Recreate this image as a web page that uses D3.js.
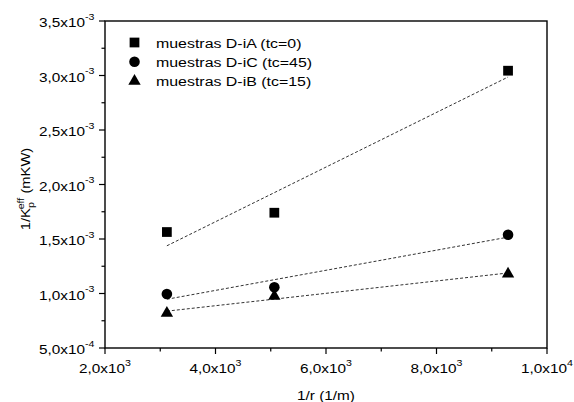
<!DOCTYPE html>
<html><head><meta charset="utf-8">
<script src="https://cdn.jsdelivr.net/npm/d3@7/dist/d3.min.js"></script>
<style>body{margin:0;background:#fff}svg{display:block}text{font-family:"Liberation Sans",Arial,sans-serif}</style>
</head><body>
<script>
const seriesNames = ["muestras D-iA (tc=0)", "muestras D-iC (tc=45)", "muestras D-iB (tc=15)"];
const xValues = [3120, 5065, 9295];
const seriesA = [1.564e-3, 1.741e-3, 3.044e-3];
const seriesC = [0.995e-3, 1.057e-3, 1.539e-3];
const seriesB = [0.82e-3, 0.975e-3, 1.18e-3];
const xTicks = [2000, 4000, 6000, 8000, 10000];
const xTickMant = ["2,0", "4,0", "6,0", "8,0", "1,0"];
const xTickExp = ["3", "3", "3", "3", "4"];
const yTicks = [5e-4, 1e-3, 1.5e-3, 2e-3, 2.5e-3, 3e-3, 3.5e-3];
const yTickMant = ["5,0", "1,0", "1,5", "2,0", "2,5", "3,0", "3,5"];
const yTickExp = ["-4", "-3", "-3", "-3", "-3", "-3", "-3"];

const W = 574, H = 402, SX = 1.18;
const m = {l: 105, r: 27, t: 21, b: 54};
const svg = d3.select("body").append("svg").attr("width", W).attr("height", H);
const x = d3.scaleLinear().domain([2000, 10000]).range([m.l, W - m.r]);
const y = d3.scaleLinear().domain([5e-4, 3.5e-3]).range([H - m.b, m.t]);

function stext(px, py, anchor, size, extra) {
  return svg.append("g").attr("transform", `translate(${px},${py})${extra || ""} scale(${SX},1)`)
    .append("text").attr("x", 0).attr("y", 0).attr("text-anchor", anchor).attr("font-size", size);
}

// frame
svg.append("rect").attr("x", m.l).attr("y", m.t).attr("width", W - m.r - m.l).attr("height", H - m.b - m.t)
  .attr("fill", "none").attr("stroke", "#000").attr("stroke-width", 1.4);

// x axis ticks
const gx = svg.append("g").attr("transform", `translate(0,${H - m.b})`);
const xMinor = d3.range(3000, 10000, 2000);
gx.selectAll(".mj").data(xTicks).join("line").attr("x1", d => x(d)).attr("x2", d => x(d)).attr("y1", 0).attr("y2", 6).attr("stroke", "#000").attr("stroke-width", 1.2);
gx.selectAll(".mn").data(xMinor).join("line").attr("x1", d => x(d)).attr("x2", d => x(d)).attr("y1", 0).attr("y2", 3.5).attr("stroke", "#000").attr("stroke-width", 1.2);
xTicks.forEach((d, i) => {
  const t = stext(x(d), H - m.b + 25, "middle", 13);
  t.append("tspan").text(xTickMant[i] + "x10");
  t.append("tspan").attr("dy", -7).attr("font-size", 9).text(xTickExp[i]);
});

// y axis ticks
const gy = svg.append("g").attr("transform", `translate(${m.l},0)`);
const yMinor = d3.range(7.5e-4, 3.5e-3, 5e-4);
gy.selectAll(".mj").data(yTicks).join("line").attr("y1", d => y(d)).attr("y2", d => y(d)).attr("x1", 0).attr("x2", -6).attr("stroke", "#000").attr("stroke-width", 1.2);
gy.selectAll(".mn").data(yMinor).join("line").attr("y1", d => y(d)).attr("y2", d => y(d)).attr("x1", 0).attr("x2", -3.5).attr("stroke", "#000").attr("stroke-width", 1.2);
yTicks.forEach((d, i) => {
  const t = stext(m.l - 10.5, y(d) + 6, "end", 13);
  t.append("tspan").text(yTickMant[i] + "x10");
  t.append("tspan").attr("dy", -7.5).attr("font-size", 9).text(yTickExp[i]);
});

// axis titles
stext(x(6000), 400, "middle", 13).text("1/r (1/m)");
const yt = stext(30, 189, "middle", 12.5, " rotate(-90)");
yt.append("tspan").text("1/K");
yt.append("tspan").attr("font-size", 9).attr("dy", 4).text("p");
yt.append("tspan").attr("font-size", 9).attr("dy", -10).attr("dx", -6).text("eff");
yt.append("tspan").attr("dy", 6).text(" (mKW)");

// series
const series = [
  {name: seriesNames[0], vals: seriesA, sym: d3.symbolSquare, size: 95},
  {name: seriesNames[1], vals: seriesC, sym: d3.symbolCircle, size: 88},
  {name: seriesNames[2], vals: seriesB, sym: d3.symbolTriangle, size: 66}
];
function fit(xs, ys) {
  const mx = d3.mean(xs), my = d3.mean(ys);
  const sxy = d3.sum(xs, (v, i) => (v - mx) * (ys[i] - my));
  const sxx = d3.sum(xs, v => (v - mx) ** 2);
  const b = sxy / sxx; return v => my + b * (v - mx);
}
const xMin = d3.min(xValues), xMax = d3.max(xValues);
series.forEach(s => {
  const f = fit(xValues, s.vals);
  svg.append("line").attr("x1", x(xMin)).attr("y1", y(f(xMin))).attr("x2", x(xMax)).attr("y2", y(f(xMax)))
    .attr("stroke", "#333").attr("stroke-width", 1).attr("stroke-dasharray", "3,2");
});
series.forEach(s => {
  svg.append("g").selectAll("path").data(s.vals).join("path")
    .attr("transform", (d, i) => `translate(${x(xValues[i])},${y(d)})`)
    .attr("d", d3.symbol(s.sym, s.size)).attr("fill", "#000");
});

// legend
series.forEach((s, i) => {
  const ly = 42.5 + i * 19.3;
  svg.append("path").attr("transform", `translate(134.5,${ly})`).attr("d", d3.symbol(s.sym, s.size)).attr("fill", "#000");
  stext(156, ly + 5, "start", 13.5).text(s.name);
});
</script>
</body></html>
